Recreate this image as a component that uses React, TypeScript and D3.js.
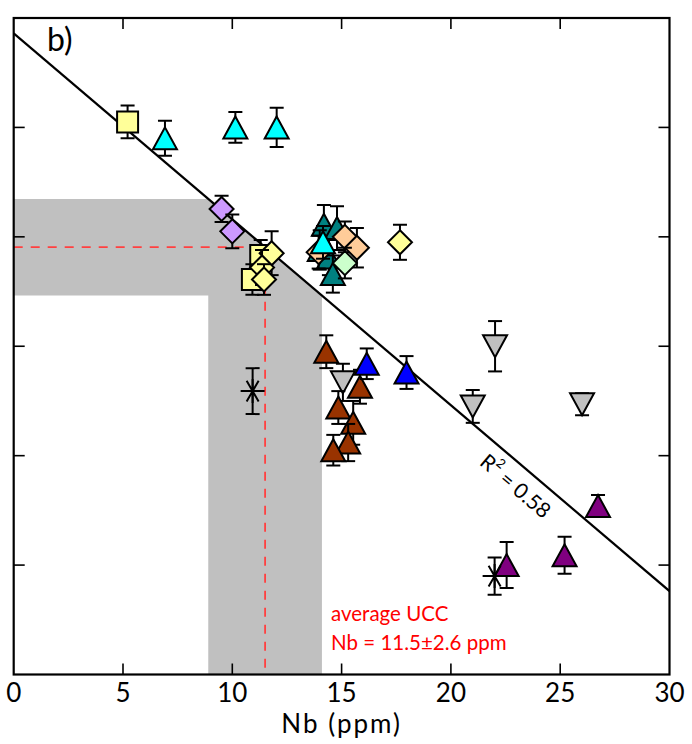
import * as d3 from "d3";

// Nb vs. (unlabelled) proxy, panel b
// each point: [Nb ppm, y value, error]
type Pt = [number, number, number];

const yellowSquares: Pt[] = [
  [5.21, 5.05, 0.15],
  [11.3, 3.83, 0.14],
  [10.92, 3.61, 0.14],
];
const cyanTriangles: Pt[] = [
  [6.92, 4.9, 0.16],
  [10.14, 5.0, 0.14],
  [12.03, 5.0, 0.18],
];
const lavenderDiamonds: Pt[] = [
  [9.51, 4.255, 0.12],
  [10.0, 4.05, 0.155],
];
const yellowDiamonds: Pt[] = [
  [11.8, 3.85, 0.2],
  [11.36, 3.72, 0.16],
  [11.45, 3.61, 0.14],
  [17.67, 3.95, 0.16],
];
const tealTriangles: Pt[] = [
  [14.19, 4.11, 0.18],
  [14.79, 4.08, 0.2],
  [14.0, 3.88, 0.18],
  [14.42, 3.81, 0.16],
  [14.6, 3.66, 0.17],
];
const cyanTriangles2: Pt[] = [[14.15, 3.95, 0.15]];
const peachDiamonds: Pt[] = [
  [13.95, 3.86, 0.15],
  [15.15, 4.0, 0.14],
  [15.7, 3.9, 0.18],
];
const greenDiamonds: Pt[] = [[15.15, 3.76, 0.14]];
const greyDown: Pt[] = [
  [15.06, 2.67, 0.17],
  [22.02, 3.0, 0.23],
  [21.0, 2.45, 0.15],
  [26.0, 2.47, 0.1],
];
const brownTriangles: Pt[] = [
  [14.3, 2.95, 0.15],
  [15.84, 2.63, 0.155],
  [14.85, 2.44, 0.15],
  [15.53, 2.3, 0.2],
  [15.3, 2.12, 0.17],
  [14.62, 2.05, 0.14],
];
const blueTriangles: Pt[] = [
  [16.15, 2.84, 0.14],
  [17.97, 2.76, 0.15],
];
const purpleTriangles: Pt[] = [
  [26.73, 1.54, 0.1],
  [25.2, 1.09, 0.17],
  [22.55, 1.0, 0.21],
];
const asterisks: Pt[] = [
  [10.93, 2.59, 0.21],
  [22.0, 0.9, 0.17],
];

// regression and UCC reference
const fitIntercept = 5.859;
const fitSlope = -0.1699;
const fitR2 = "0.58";
const uccNb = 11.5;
const uccSd = 2.6;

const xTicks = [0, 5, 10, 15, 20, 25, 30];
const yTicks = [0, 1, 2, 3, 4, 5, 6];

const W = 692;
const H = 744;
const left = 13.7;
const right = 669.5;
const top = 18;
const bottom = 674.5;

const x = d3.scaleLinear().domain([0, 30]).range([left, right]);
const y = d3.scaleLinear().domain([0, 6]).range([bottom, top]);
const fit = (v: number) => fitIntercept + fitSlope * v;

type Marker = "square" | "up" | "down" | "diamond" | "asterisk";

const series: { pts: Pt[]; marker: Marker; fill: string }[] = [
  { pts: yellowSquares, marker: "square", fill: "#ffff99" },
  { pts: cyanTriangles, marker: "up", fill: "#00ffff" },
  { pts: lavenderDiamonds, marker: "diamond", fill: "#cc99ff" },
  { pts: yellowDiamonds, marker: "diamond", fill: "#ffff99" },
  { pts: tealTriangles, marker: "up", fill: "#008080" },
  { pts: peachDiamonds, marker: "diamond", fill: "#ffcc99" },
  { pts: cyanTriangles2, marker: "up", fill: "#00ffff" },
  { pts: greenDiamonds, marker: "diamond", fill: "#ccffcc" },
  { pts: greyDown, marker: "down", fill: "#c0c0c0" },
  { pts: brownTriangles, marker: "up", fill: "#993300" },
  { pts: blueTriangles, marker: "up", fill: "#0000ff" },
  { pts: purpleTriangles, marker: "up", fill: "#800080" },
  { pts: asterisks, marker: "asterisk", fill: "none" },
];

function markerPath(m: Marker) {
  const tw = 12, th = 11, r = 12, s = 10.5;
  switch (m) {
    case "up":
      return `M0,${-th}L${tw},${th}L${-tw},${th}Z`;
    case "down":
      return `M0,${th}L${tw},${-th}L${-tw},${-th}Z`;
    case "diamond":
      return `M0,${-r}L${r},0L0,${r}L${-r},0Z`;
    case "square":
      return `M${-s},${-s}H${s}V${s}H${-s}Z`;
    default: {
      const a = 12;
      const p = d3.path();
      [0, 60, 120].forEach((deg) => {
        const t = (deg * Math.PI) / 180;
        p.moveTo(-a * Math.cos(t), -a * Math.sin(t));
        p.lineTo(a * Math.cos(t), a * Math.sin(t));
      });
      p.moveTo(0, -a);
      p.lineTo(0, a);
      return p.toString();
    }
  }
}

const font = "Lato, 'Open Sans', sans-serif";

export default function App() {
  const bandTop = fit(uccNb - uccSd);
  const bandBot = fit(uccNb + uccSd);
  const uccY = fit(uccNb);
  const grey: [number, number][] = [
    [0, bandTop],
    [uccNb - uccSd, bandTop],
    [uccNb + uccSd, bandBot],
    [uccNb + uccSd, 0],
    [uccNb - uccSd, 0],
    [uccNb - uccSd, bandBot],
    [0, bandBot],
  ];
  const greyPath = d3.line<[number, number]>().x((d) => x(d[0])).y((d) => y(d[1]))(grey) + "Z";

  const angle = (Math.atan2(y(fit(30)) - y(fit(0)), x(30) - x(0)) * 180) / Math.PI;
  const r2x = x(23.0);
  const r2y = y(fit(23.0)) + 24;

  return (
    <svg width={W} height={H} style={{ position: "absolute", left: 0, top: 0, background: "#fff" }}>
      <defs>
        <clipPath id="plot">
          <rect x={left} y={top} width={right - left} height={bottom - top} />
        </clipPath>
      </defs>
      <g clipPath="url(#plot)">
        <path d={greyPath} fill="#c0c0c0" />
        <path
          d={`M${x(0)},${y(uccY)}H${x(uccNb)}V${y(0)}`}
          fill="none"
          stroke="#ff4040"
          strokeWidth={1.8}
          strokeDasharray="9,8"
        />
        <line x1={x(0)} y1={y(fit(0))} x2={x(30)} y2={y(fit(30))} stroke="#000" strokeWidth={2.2} />
        {series.map((s, si) =>
          s.pts.map((p, pi) => {
            const cx = x(p[0]);
            const cy = y(p[1]);
            const y0 = y(p[1] - p[2]);
            const y1 = y(p[1] + p[2]);
            return (
              <g key={`${si}-${pi}`}>
                <g stroke="#000" strokeWidth={2}>
                  <line x1={cx} x2={cx} y1={y0} y2={y1} />
                  <line x1={cx - 7} x2={cx + 7} y1={y0} y2={y0} />
                  <line x1={cx - 7} x2={cx + 7} y1={y1} y2={y1} />
                </g>
                <path
                  d={markerPath(s.marker)}
                  transform={`translate(${cx},${cy})`}
                  fill={s.fill}
                  stroke="#000"
                  strokeWidth={2}
                  strokeLinejoin="miter"
                />
              </g>
            );
          })
        )}
      </g>
      <text
        transform={`translate(${r2x},${r2y}) rotate(${angle})`}
        textAnchor="middle"
        dominantBaseline="central"
        fontFamily={font}
        fontSize={21}
        fill="#000"
      >
        R<tspan dy={-7} fontSize={13}>2</tspan>
        <tspan dy={7}> = {fitR2}</tspan>
      </text>
      {/* ticks, inward on all sides */}
      <g stroke="#000" strokeWidth={1.6}>
        {xTicks.slice(1, -1).map((t) => (
          <g key={`xt${t}`}>
            <line x1={x(t)} x2={x(t)} y1={bottom} y2={bottom - 11} />
            <line x1={x(t)} x2={x(t)} y1={top} y2={top + 11} />
          </g>
        ))}
        {yTicks.slice(1, -1).map((t) => (
          <g key={`yt${t}`}>
            <line x1={left} x2={left + 11} y1={y(t)} y2={y(t)} />
            <line x1={right} x2={right - 11} y1={y(t)} y2={y(t)} />
          </g>
        ))}
      </g>
      <rect x={left} y={top} width={right - left} height={bottom - top} fill="none" stroke="#000" strokeWidth={2.2} />
      {xTicks.map((t) => (
        <text key={`xl${t}`} x={x(t)} y={702} textAnchor="middle" fontFamily={font} fontSize={26} fill="#000">
          {t}
        </text>
      ))}
      <text x={x(15)} y={733} textAnchor="middle" fontFamily={font} fontSize={26} letterSpacing={2} fill="#000">
        Nb (ppm)
      </text>
      <text x={47} y={51} fontFamily={font} fontSize={32} fill="#000">
        b)
      </text>
      <text x={331} y={621} fontFamily={font} fontSize={20.5} fill="#ff0000">
        average UCC
      </text>
      <text x={331} y={650} fontFamily={font} fontSize={20.5} fill="#ff0000">
        Nb = {uccNb}±{uccSd} ppm
      </text>
    </svg>
  );
}
